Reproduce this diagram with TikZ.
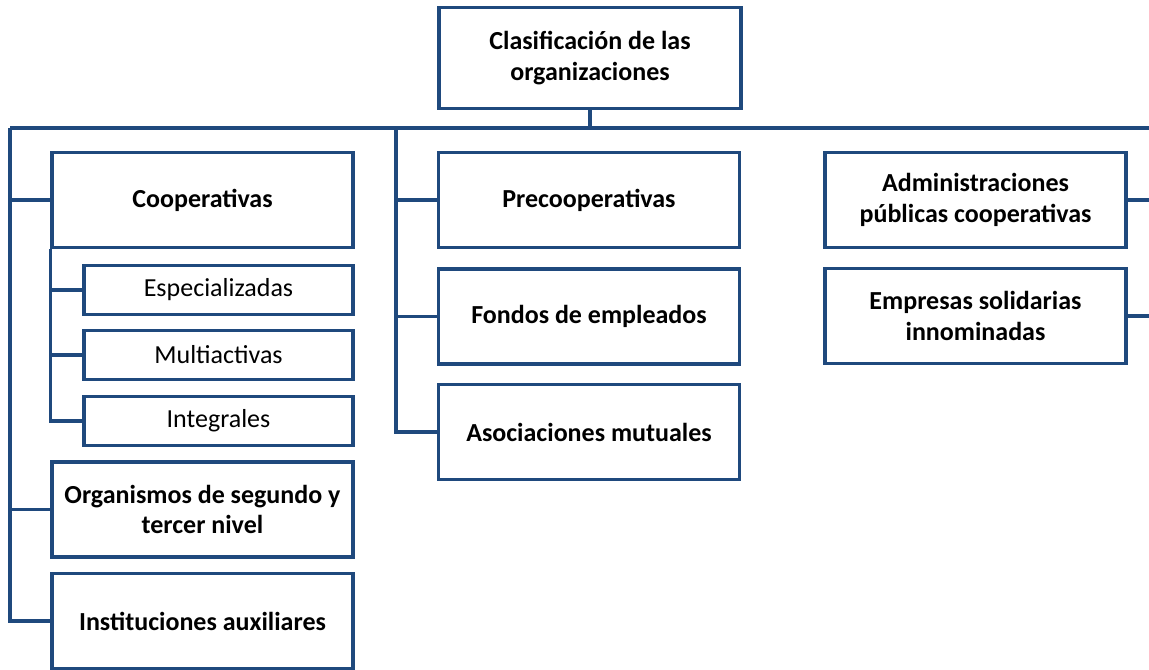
\documentclass[tikz,border=0pt]{standalone}
\usepackage{fontspec}
\setmainfont{Carlito}
\usetikzlibrary{positioning}
\definecolor{orgblue}{RGB}{31,73,125}
\tikzset{
  centered/.style = { align=center, anchor=center },
       box/.style = { draw=orgblue, line width=2.6pt, fill=white, centered,
                      minimum width=225.75pt, minimum height=71.25pt, inner sep=0pt,
                      font=\fontsize{19.5}{23}\selectfont\bfseries },
    subbox/.style = { box, minimum width=201.75pt, minimum height=36.75pt,
                      font=\fontsize{19.5}{23}\selectfont },
      link/.style = { line width=2.4pt, draw=orgblue }
}

\begin{document}
\begin{tikzpicture}[x=0.75pt, y=-0.75pt]
  \useasboundingbox (0,0) rectangle (1149,669);
  \clip (0,0) rectangle (1149,669);

  % bus
  \coordinate (busL) at (10,128);
  \coordinate (busM) at (396,128);
  \coordinate (busR) at (1160,128);

  % head
  \node[box, minimum width=226.5pt, minimum height=75.75pt] (top) at (590,58)
    {Clasificación de las\\organizaciones};

  % left column
  \node[box] (coop) at (202.5,200) {Cooperativas};
  \node[subbox] (esp)   at (218.5,290) {Especializadas};
  \node[subbox] (multi) at (218.5,355) {Multiactivas};
  \node[subbox] (integ) at (218.5,421) {Integrales};
  \node[box] (org)  at (202.5,509.5) {Organismos de segundo y\\tercer nivel};
  \node[box] (inst) at (202.5,621) {Instituciones auxiliares};

  % middle column
  \node[box] (prec) at (589,200)   {Precooperativas};
  \node[box] (fond) at (589,316.5) {Fondos de empleados};
  \node[box] (asoc) at (589,432)   {Asociaciones mutuales};

  % right column
  \node[box] (admin) at (975.5,200) {Administraciones\\públicas cooperativas};
  \node[box] (emp)   at (975.5,316) {Empresas solidarias\\innominadas};

  \draw [link] (top.south) -- (top.south |- busL);
  \draw [link] (busL) -- (busR);

  \draw [link] (busL) |- (inst.west);
  \foreach \n in {coop, org}
    \draw [link] (busL |- \n.west) -- (\n.west);

  \draw [link] (coop.south west) |- (integ.west);
  \foreach \n in {esp, multi}
    \draw [link] (coop.south west |- \n.west) -- (\n.west);

  \draw [link] (busM) |- (asoc.west);
  \foreach \n in {prec, fond}
    \draw [link] (busM |- \n.west) -- (\n.west);

  \draw [link] (busR) |- (emp.east);
  \draw [link] (busR |- admin.east) -- (admin.east);
\end{tikzpicture}
\end{document}
